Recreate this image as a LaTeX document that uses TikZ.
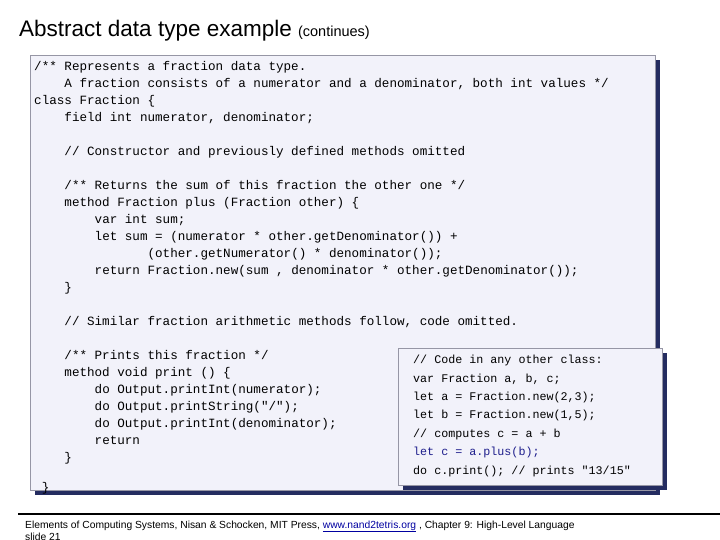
\documentclass[tikz,border=0pt]{standalone}
\usepackage{fontspec}
\setmainfont{Liberation Sans}
\setmonofont{Liberation Mono}
\usepackage{tikz}
\usetikzlibrary{positioning,calc}
\definecolor{codeBG}{RGB}{242,242,250}
\definecolor{codeShadow}{RGB}{36,44,96}
\definecolor{codeEdge}{RGB}{150,150,165}
\definecolor{codeBlue}{RGB}{30,30,140}
\definecolor{linkBlue}{RGB}{0,0,160}
\newcommand{\ind}[1]{\hspace*{#1\fontcharwd\font`0}}
\tikzset{
	codebox/.style={draw=codeEdge,fill=codeBG,line width=.8pt},
	shadowbox/.style={fill=codeShadow,draw=none},
	codetext/.style={anchor=north west,align=left,inner sep=0pt,font=\ttfamily},
	footnote/.style={anchor=base west,inner sep=0pt,font=\fontsize{10.3}{13}\selectfont},
}
\begin{document}
\begin{tikzpicture}[x=1pt,y=-1pt]
								\useasboundingbox (0,0) rectangle (720,540);
								\node [anchor=base west,inner sep=0pt] (title) at (19,37){\fontsize{22.5}{26}\selectfont Abstract data type example \fontsize{14.5}{17}\selectfont(continues)};
								% main listing
								\fill [shadowbox] (35,60) rectangle (660,495);
								\draw [codebox] (30,55) rectangle (655,490);
								\node [codetext,font=\fontsize{12.6}{17}\ttfamily] (mainCode) at (34,61){%
/** Represents a fraction data type.\\
\ind{4}A fraction consists of a numerator and a denominator, both int values */\\
class Fraction \{\\
\ind{4}field int numerator, denominator;\\[17pt]
\ind{4}// Constructor and previously defined methods omitted\\[17pt]
\ind{4}/** Returns the sum of this fraction the other one */\\
\ind{4}method Fraction plus (Fraction other) \{\\
\ind{8}var int sum;\\
\ind{8}let sum = (numerator * other.getDenominator()) +\\
\ind{15}(other.getNumerator() * denominator());\\
\ind{8}return Fraction.new(sum , denominator * other.getDenominator());\\
\ind{4}\}\\[17pt]
\ind{4}// Similar fraction arithmetic methods follow, code omitted.\\[17pt]
\ind{4}/** Prints this fraction */\\
\ind{4}method void print () \{\\
\ind{8}do Output.printInt(numerator);\\
\ind{8}do Output.printString("/");\\
\ind{8}do Output.printInt(denominator);\\
\ind{8}return\\
\ind{4}\}\\[13pt]
\ind{1}\}};
								% client listing
								\fill [shadowbox] (403,353) rectangle (667,490);
								\draw [codebox] (398,348) rectangle (662,485);
								\node [codetext,font=\fontsize{11.7}{18.4}\ttfamily] (clientCode) at (413,355){%
// Code in any other class:\\
var Fraction a, b, c;\\
let a = Fraction.new(2,3);\\
let b = Fraction.new(1,5);\\
// computes c = a + b\\
\textcolor{codeBlue}{let c = a.plus(b);}\\
do c.print(); // prints "13/15"};
								% footer
								\draw [line width=1.2pt] (18,514) -- (720,514);
								\node [footnote] (footer) at (25,528){Elements of Computing Systems, Nisan \& Schocken, MIT Press, \textcolor{linkBlue}{\underline{www.nand2tetris.org}} , Chapter 9: High-Level Language};
								\node [footnote] (slide) at (25,540){slide 21};
							\end{tikzpicture}
\end{document}
